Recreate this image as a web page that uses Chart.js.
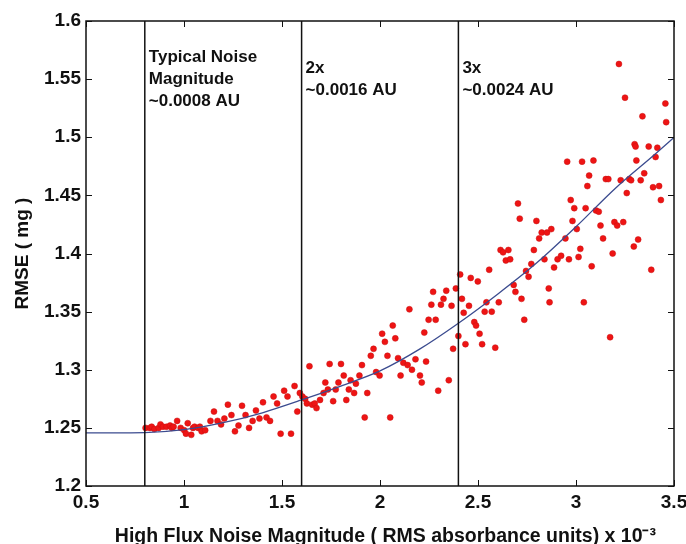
<!DOCTYPE html>
<html>
<head>
<meta charset="utf-8">
<script src="https://cdn.jsdelivr.net/npm/chart.js@4/dist/chart.umd.min.js"></script>
<style>
  html, body { margin: 0; padding: 0; background: #fff; }
  #wrap { width: 686px; height: 544px; }
</style>
</head>
<body>
<div id="wrap"><canvas id="rmseChart" width="686" height="544"></canvas></div>
<script>
// ejes
const xTicks = [0.5, 1, 1.5, 2, 2.5, 3, 3.5];
const xTickLabels = ['0.5', '1', '1.5', '2', '2.5', '3', '3.5'];
const yTicks = [1.2, 1.25, 1.3, 1.35, 1.4, 1.45, 1.5, 1.55, 1.6];
const yTickLabels = ['1.2', '1.25', '1.3', '1.35', '1.4', '1.45', '1.5', '1.55', '1.6'];

// puntos medidos (ruido x 10^-3, RMSE mg)
const sampleX = [
  0.804,0.826,0.835,0.849,0.871,0.880,0.893,0.911,0.929,0.938,0.947,0.965,0.983,1.001,1.010,1.019,1.037,1.046,1.054,1.072,1.081,1.090,1.108,1.135,1.153,1.171,1.189,1.206,1.224,1.242,1.260,1.278,1.296,1.314,1.332,1.350,1.367,1.385,1.403,1.421,1.439,1.457,1.475,1.493,1.511,1.528,1.546,1.564,1.578,1.591,1.604,1.618,1.627,
  1.640,1.654,1.667,1.676,1.694,1.712,1.721,1.734,1.743,1.761,1.774,1.788,1.801,1.815,1.828,1.841,1.850,1.868,1.877,1.895,1.908,1.922,1.935,1.953,1.967,1.980,1.998,2.011,2.025,2.038,2.052,2.065,2.078,2.092,2.105,2.119,2.141,2.150,2.163,2.181,2.204,2.213,2.226,2.235,2.248,2.262,2.271,2.284,2.297,2.311,2.324,2.338,2.351,2.365,2.373,2.387,
  2.400,2.409,2.418,2.427,2.436,2.454,2.463,2.481,2.490,2.499,2.508,2.521,2.534,2.543,2.557,2.570,2.588,2.606,2.615,2.628,2.642,2.655,2.664,2.682,2.691,2.704,2.713,2.722,2.736,2.745,2.758,2.772,2.785,2.798,2.812,2.825,2.839,2.852,2.861,2.865,2.874,2.888,
  2.906,2.924,2.946,2.955,2.964,2.973,2.982,2.991,3.004,3.013,3.022,3.031,3.040,3.049,3.058,3.067,3.080,3.089,3.102,3.116,3.125,3.138,3.152,3.165,3.174,3.187,3.196,3.210,3.219,3.228,3.241,3.250,3.259,3.272,3.281,3.295,3.299,3.304,3.308,3.317,3.330,3.339,3.348,3.371,3.384,3.393,3.406,3.415,3.424,3.433,3.456,3.460
];
const sampleY = [
  1.250,1.250,1.251,1.249,1.250,1.253,1.251,1.251,1.252,1.250,1.251,1.256,1.250,1.248,1.245,1.254,1.244,1.250,1.251,1.250,1.251,1.247,1.248,1.256,1.264,1.256,1.253,1.258,1.270,1.261,1.247,1.252,1.269,1.261,1.250,1.256,1.265,1.258,1.272,1.259,1.256,1.277,1.271,1.245,1.282,1.277,1.245,1.286,1.264,1.280,1.277,1.275,1.271,
  1.303,1.270,1.271,1.267,1.274,1.280,1.289,1.283,1.305,1.273,1.283,1.289,1.305,1.295,1.274,1.283,1.291,1.280,1.288,1.295,1.304,1.259,1.280,1.312,1.318,1.298,1.295,1.331,1.324,1.312,1.259,1.338,1.327,1.310,1.295,1.306,1.304,1.352,1.300,1.309,1.295,1.289,1.332,1.307,1.343,1.356,1.367,1.343,1.282,1.356,1.361,1.368,1.291,1.355,1.318,1.370,
  1.329,1.382,1.361,1.349,1.322,1.355,1.379,1.341,1.338,1.376,1.331,1.322,1.350,1.358,1.386,1.350,1.319,1.358,1.403,1.401,1.394,1.403,1.395,1.373,1.367,1.443,1.430,1.361,1.343,1.385,1.380,1.391,1.403,1.428,1.413,1.418,1.395,1.418,1.370,1.358,1.421,1.388,
  1.395,1.398,1.413,1.479,1.395,1.446,1.428,1.439,1.421,1.397,1.404,1.479,1.358,1.439,1.458,1.467,1.389,1.480,1.437,1.436,1.424,1.413,1.464,1.464,1.328,1.400,1.427,1.424,1.563,1.463,1.427,1.534,1.452,1.464,1.463,1.406,1.494,1.492,1.480,1.412,1.463,1.518,1.469,1.492,1.386,1.457,1.483,1.491,1.458,1.446,1.529,1.513
];

// curva de ajuste
const fitX = [0.5, 0.8, 1.0, 1.2, 1.4, 1.6, 1.8, 2.0, 2.2, 2.4, 2.6, 2.8, 3.0, 3.2, 3.4, 3.5];
const fitY = [1.2457, 1.2460, 1.2485, 1.2545, 1.2630, 1.2740, 1.2860, 1.2990, 1.3175, 1.3400, 1.3650, 1.3920, 1.4230, 1.4560, 1.4850, 1.4998];

// niveles de ruido marcados
const noiseLevels = [0.8, 1.6, 2.4];
const noiseLabels = [
  ['Typical Noise', 'Magnitude', '~0.0008 AU'],
  ['2x', '~0.0016 AU'],
  ['3x', '~0.0024 AU']
];

const FONT = '"Liberation Sans", Arial, Helvetica, sans-serif';
Chart.defaults.font.family = FONT;
Chart.defaults.color = '#111';

// marco, marcas hacia dentro y textos
const framePlugin = {
  id: 'frame',
  afterDraw(chart) {
    const { ctx, chartArea: a, scales: { x, y } } = chart;
    ctx.save();
    ctx.strokeStyle = '#111';
    ctx.lineWidth = 1.5;
    ctx.strokeRect(a.left, a.top, a.right - a.left, a.bottom - a.top);
    ctx.lineWidth = 1;
    ctx.beginPath();
    xTicks.forEach(v => {
      const px = Math.round(x.getPixelForValue(v)) + 0.5;
      ctx.moveTo(px, a.bottom); ctx.lineTo(px, a.bottom - 6);
      ctx.moveTo(px, a.top); ctx.lineTo(px, a.top + 6);
    });
    yTicks.forEach(v => {
      const py = Math.round(y.getPixelForValue(v)) + 0.5;
      ctx.moveTo(a.left, py); ctx.lineTo(a.left + 6, py);
      ctx.moveTo(a.right, py); ctx.lineTo(a.right - 6, py);
    });
    ctx.stroke();

    ctx.fillStyle = '#111';
    ctx.font = 'bold 17px ' + FONT;
    ctx.textBaseline = 'middle';
    noiseLevels.forEach((v, i) => {
      const px = x.getPixelForValue(v) + 4;
      const top = a.top + (i === 0 ? 36 : 47);
      noiseLabels[i].forEach((line, j) => ctx.fillText(line, px, top + j * 22));
    });
    ctx.restore();
  }
};

const ctx = document.getElementById('rmseChart').getContext('2d');
new Chart(ctx, {
  type: 'scatter',
  data: {
    datasets: [
      ...noiseLevels.map(v => ({
        type: 'line',
        data: [{ x: v, y: yTicks[0] }, { x: v, y: yTicks[yTicks.length - 1] }],
        borderColor: '#111',
        borderWidth: 1.5,
        pointRadius: 0
      })),
      {
        type: 'line',
        data: fitX.map((v, i) => ({ x: v, y: fitY[i] })),
        borderColor: '#3b4b8f',
        borderWidth: 1.3,
        pointRadius: 0,
        cubicInterpolationMode: 'monotone'
      },
      {
        data: sampleX.map((v, i) => ({ x: v, y: sampleY[i] })),
        backgroundColor: '#ee1414',
        borderColor: '#c81010',
        borderWidth: 0.5,
        pointRadius: 3
      }
    ]
  },
  options: {
    responsive: false,
    devicePixelRatio: 1,
    animation: false,
    layout: { padding: { top: 21, right: 12, bottom: 0, left: 0 } },
    plugins: { legend: { display: false }, tooltip: { enabled: false } },
    scales: {
      x: {
        type: 'linear',
        min: 0.5, max: 3.5,
        afterBuildTicks: s => { s.ticks = xTicks.map(v => ({ value: v })); },
        afterFit: s => { s.height = 58; s.paddingLeft = 0; s.paddingRight = 0; },
        grid: { display: false, drawTicks: false },
        border: { display: false },
        ticks: {
          autoSkip: false, maxRotation: 0, padding: 5,
          font: { size: 19, weight: 'bold' },
          callback: (v, i) => xTickLabels[i]
        },
        title: {
          display: true,
          text: '  High Flux Noise Magnitude ( RMS absorbance units) x 10\u207B\u00B3',
          font: { size: 19.5, weight: 'bold', lineHeight: '14px' },
          padding: { top: 0, bottom: 0 }
        }
      },
      y: {
        min: 1.2, max: 1.6,
        afterBuildTicks: s => { s.ticks = yTicks.map(v => ({ value: v })); },
        afterFit: s => { s.width = 86; s.paddingTop = 0; s.paddingBottom = 0; },
        grid: { display: false, drawTicks: false },
        border: { display: false },
        ticks: {
          autoSkip: false, padding: 5,
          font: { size: 19, weight: 'bold' },
          callback: (v, i) => yTickLabels[i]
        },
        title: {
          display: true,
          text: 'RMSE ( mg )',
          font: { size: 19, weight: 'bold' },
          padding: { top: 11, bottom: 0 }
        }
      }
    }
  },
  plugins: [framePlugin]
});
</script>
</body>
</html>
